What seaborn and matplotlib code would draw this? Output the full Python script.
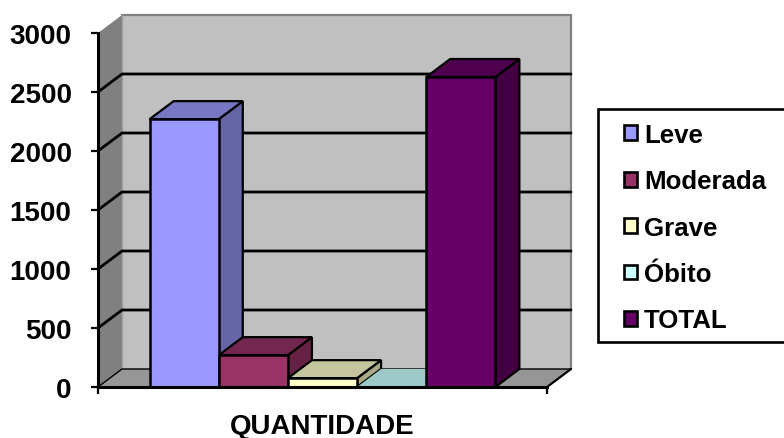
import matplotlib
matplotlib.use("Agg")
import matplotlib.pyplot as plt
from matplotlib.patches import Polygon, Rectangle
import seaborn as sns
import pandas as pd

# Severity counts
categories = ["Leve", "Moderada", "Grave", "Óbito", "TOTAL"]
values = [2270, 270, 75, 0, 2627]
group_label = "QUANTIDADE"
y_ticks = [0, 500, 1000, 1500, 2000, 2500, 3000]

front_colors = ["#9999ff", "#993366", "#ffffcc", "#ccffff", "#660066"]
top_colors = ["#7777c4", "#73264f", "#c4c49e", "#9cc8c8", "#4e004e"]
side_colors = ["#6666a6", "#662244", "#a9a988", "#88aaaa", "#420042"]

W, H = 784, 439
sns.set_theme(style="white")
plt.rcParams["font.family"] = ["Liberation Sans", "DejaVu Sans"]
plt.rcParams["font.weight"] = "bold"
plt.rcParams["text.color"] = "black"
plt.rcParams["axes.labelcolor"] = "black"
plt.rcParams["xtick.labelcolor"] = "black"
plt.rcParams["ytick.labelcolor"] = "black"
FS = 20.0
LEGEND_FS = 18.6

fig = plt.figure(figsize=(W / 100, H / 100), dpi=100, facecolor="white")
L, R, T, B = 98, 547, 34, 388
ax = fig.add_axes([L / W, 1 - B / H, (R - L) / W, (B - T) / H])

df = pd.DataFrame({"group": [group_label] * len(categories), "severity": categories, "count": values})
sns.barplot(data=df, x="group", y="count", hue="severity", hue_order=categories,
            palette=front_colors, width=0.77, gap=0, saturation=1, ax=ax,
            edgecolor="black", linewidth=1.8, errorbar=None)
bars = [c[0] for c in ax.containers]

ax.set_xlim(-0.5, 0.5)
ax.set_ylim(0, 3000)
ax.set_facecolor("none")

# Oblique depth of the pseudo-3D box, in data units
DX = 24 / (R - L)
DY = 18 / (B - T) * 3000


def face(points, color, z, edge="none", lw=0.0):
    ax.add_patch(Polygon(points, closed=True, facecolor=color, edgecolor=edge,
                         linewidth=lw, zorder=z, clip_on=False, joinstyle="miter"))


x0, x1 = -0.5, 0.5
top = 3000
face([(x0 + DX, DY), (x1 + DX, DY), (x1 + DX, top + DY), (x0 + DX, top + DY)], "#c0c0c0", 0.1)
face([(x0, 0), (x0 + DX, DY), (x0 + DX, top + DY), (x0, top)], "#808080", 0.1)
face([(x0, 0), (x1, 0), (x1 + DX, DY), (x0 + DX, DY)], "#969696", 0.1)
ax.plot([x0 + DX, x1 + DX, x1 + DX], [top + DY, top + DY, DY], color="#808080", lw=1.6,
        clip_on=False, zorder=0.2)
ax.plot([x0 + DX, x0 + DX], [DY, top + DY], color="#a0a0a0", lw=1.0, clip_on=False, zorder=0.2)

for v in y_ticks[:-1]:
    ax.plot([x0, x0 + DX, x1 + DX], [v, v + DY, v + DY], color="black",
            lw=1.0 if v == 0 else 2.0, clip_on=False, zorder=0.3)
ax.plot([x1, x1 + DX], [0, DY], color="black", lw=1.6, clip_on=False, zorder=0.3)

# Side and top faces derived from each seaborn bar
for i, bar in enumerate(bars):
    a, b = bar.get_x(), bar.get_x() + bar.get_width()
    h = bar.get_height()
    z = 2 + i
    if h > 0:
        face([(b, 0), (b + DX, DY), (b + DX, h + DY), (b, h)], side_colors[i], z, "black", 1.6)
        face([(a, h), (b, h), (b + DX, h + DY), (a + DX, h + DY)], top_colors[i], z, "black", 1.6)
        bar.set_zorder(z + 0.5)
    else:
        # An empty bar only shows its footprint on the floor
        face([(a, 0), (b, 0), (b + DX, DY), (a + DX, DY)], top_colors[i], z)
        bar.set_visible(False)

for s in ("top", "right"):
    ax.spines[s].set_visible(False)
for s in ("left", "bottom"):
    ax.spines[s].set_linewidth(2.2)
    ax.spines[s].set_color("black")
    ax.spines[s].set_zorder(20)

ax.set_yticks(y_ticks)
ax.set_xticks([x0, x1])
ax.set_xticklabels(["", ""])
ax.tick_params(axis="both", length=5, width=1.6, color="black", left=True, bottom=True,
               labelsize=FS, labelcolor="black", pad=14)
ax.tick_params(axis="x", pad=3)
ax.set_ylabel("")
ax.set_xlabel(group_label, fontsize=FS, fontweight="bold", color="black", labelpad=11)

# Legend panel runs past the right edge of the figure, so its right border is not seen
fig.add_artist(Rectangle((598 / W, 1 - 343 / H), 220 / W, 233 / H, transform=fig.transFigure,
                         facecolor="white", edgecolor="black", linewidth=1.9, zorder=5))

handles, labels = ax.get_legend_handles_labels()
if ax.get_legend():
    ax.get_legend().remove()
leg = fig.legend(handles, labels, loc="upper left", bbox_to_anchor=(624 / W, 1 - 124 / H),
                 bbox_transform=fig.transFigure, frameon=False, borderaxespad=0, borderpad=0,
                 labelspacing=0.865, handlelength=0.5, handleheight=0.5, handletextpad=0.27,
                 prop={"weight": "bold", "size": LEGEND_FS})
leg.set_zorder(6)
for h in leg.legend_handles:
    h.set_edgecolor("black")
    h.set_linewidth(1.9)

fig.savefig("out.png", dpi=100)
